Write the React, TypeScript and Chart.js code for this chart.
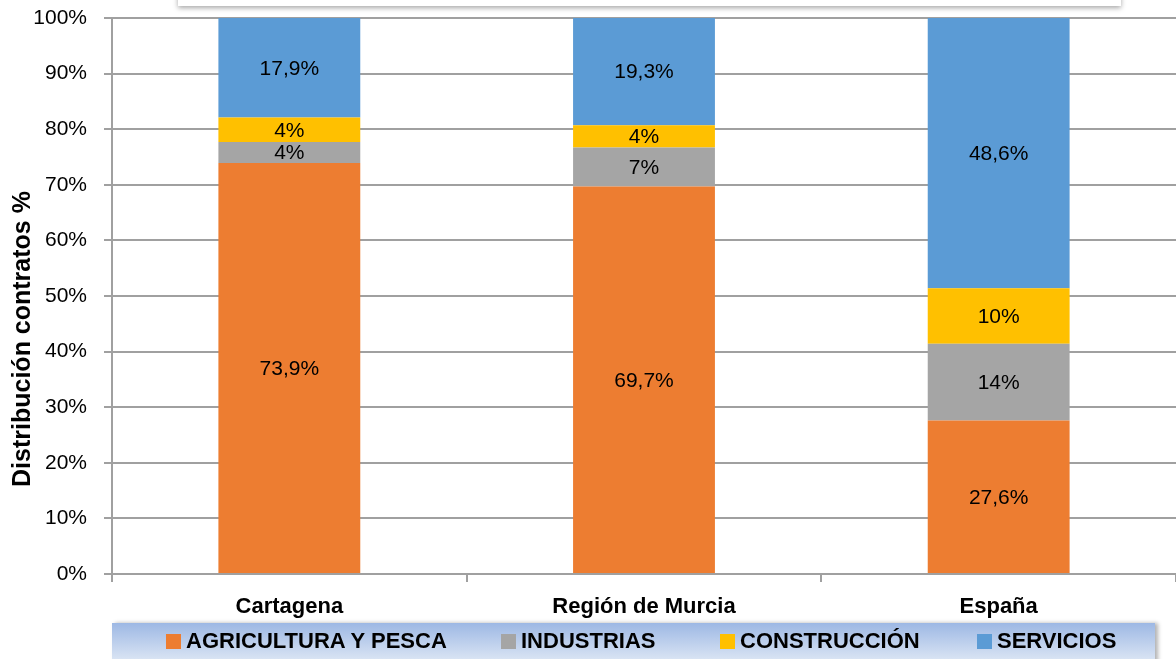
import React, { useEffect, useRef } from "react";
import { Chart, registerables } from "chart.js";

Chart.register(...registerables);

const categories = ["Cartagena", "Región de Murcia", "España"];
const seriesNames = ["AGRICULTURA Y PESCA", "INDUSTRIAS", "CONSTRUCCIÓN", "SERVICIOS"];
const agricultura = [73.9, 69.7, 27.6];
const industrias = [3.8, 7.0, 13.8];
const construccion = [4.4, 4.0, 10.0];
const servicios = [17.9, 19.3, 48.6];
const labelDecimals = [1, 0, 0, 1];
const colors = ["#ED7D31", "#A5A5A5", "#FFC000", "#5B9BD5"];
const yTicks = [0, 10, 20, 30, 40, 50, 60, 70, 80, 90, 100];
const yTitle = "Distribución contratos %";

const FONT = "'Liberation Sans', Arial, sans-serif";

const dataLabelPlugin = {
  id: "dataLabels",
  afterDatasetsDraw(chart: any) {
    const ctx = chart.ctx;
    ctx.save();
    ctx.font = `21px ${FONT}`;
    ctx.fillStyle = "#000";
    ctx.textAlign = "center";
    ctx.textBaseline = "middle";
    chart.data.datasets.forEach((ds: any, di: number) => {
      const meta = chart.getDatasetMeta(di);
      meta.data.forEach((bar: any, i: number) => {
        const v = ds.data[i];
        const dec = labelDecimals[di];
        const txt = (dec ? v.toFixed(dec).replace(".", ",") : Math.round(v).toString()) + "%";
        const y = (bar.y + bar.base) / 2;
        ctx.fillText(txt, bar.x, y + 1);
      });
    });
    ctx.restore();
  },
};

const yTitlePlugin = {
  id: "yTitle",
  afterDraw(chart: any) {
    const ctx = chart.ctx;
    ctx.save();
    ctx.translate(23, 339);
    ctx.rotate(-Math.PI / 2);
    ctx.font = `bold 25px ${FONT}`;
    ctx.fillStyle = "#000";
    ctx.textAlign = "center";
    ctx.textBaseline = "middle";
    ctx.fillText(yTitle, 0, 0);
    ctx.restore();
  },
};

export default function App() {
  const ref = useRef<HTMLCanvasElement | null>(null);

  useEffect(() => {
    if (!ref.current) return;
    const seriesData = [agricultura, industrias, construccion, servicios];
    const chart = new Chart(ref.current, {
      type: "bar",
      data: {
        labels: categories,
        datasets: seriesNames.map((name, i) => ({
          label: name,
          data: seriesData[i],
          backgroundColor: colors[i],
          borderWidth: 0,
          categoryPercentage: 1,
          barPercentage: 0.4,
        })),
      },
      options: {
        animation: false,
        responsive: false,
        maintainAspectRatio: false,
        layout: { padding: { top: 18, right: 0, bottom: 36, left: 0 } },
        plugins: {
          legend: { display: false },
          tooltip: { enabled: false },
        },
        scales: {
          x: {
            stacked: true,
            afterFit: (s: any) => {
              s.height = 49;
              s.paddingLeft = 0;
              s.paddingRight = 0;
            },
            grid: {
              offset: true,
              drawOnChartArea: false,
              drawTicks: true,
              tickLength: 8,
              color: "#a0a0a0",
              lineWidth: 2,
            },
            border: { color: "#a0a0a0", width: 2 },
            ticks: {
              color: "#000",
              padding: 12,
              font: { family: FONT, size: 22, weight: "bold" },
            },
          },
          y: {
            stacked: true,
            min: 0,
            max: 100,
            afterFit: (s: any) => {
              s.width = 112;
              s.paddingTop = 0;
              s.paddingBottom = 0;
            },
            afterBuildTicks: (s: any) => {
              s.ticks = yTicks.map((v) => ({ value: v }));
            },
            grid: {
              color: "#a0a0a0",
              lineWidth: 2,
              tickLength: 8,
            },
            border: { color: "#a0a0a0", width: 2 },
            ticks: {
              color: "#000",
              padding: 17,
              font: { family: FONT, size: 21 },
              callback: (v: any) => `${v}%`,
            },
          },
        },
      },
      plugins: [dataLabelPlugin, yTitlePlugin],
    } as any);
    return () => chart.destroy();
  }, []);

  return (
    <div
      style={{
        position: "fixed",
        left: 0,
        top: 0,
        width: 1176,
        height: 659,
        background: "#fff",
        overflow: "hidden",
      }}
    >
      <canvas ref={ref} width={1176} height={659} style={{ position: "absolute", left: 0, top: 0 }} />
      <div
        style={{
          position: "absolute",
          left: 178,
          top: -40,
          width: 943,
          height: 46,
          background: "#fff",
          boxShadow: "0 2px 5px rgba(0,0,0,0.35)",
        }}
      />
      <div
        style={{
          position: "absolute",
          left: 112,
          top: 623,
          width: 1043,
          height: 40,
          background: "linear-gradient(to bottom, #9db8e4, #dfe8f5)",
          boxShadow: "3px 0 4px rgba(0,0,0,0.3)",
        }}
      >
        {seriesNames.map((name, i) => (
          <div
            key={name}
            style={{
              position: "absolute",
              left: [54, 389, 608, 865][i],
              top: 5,
              display: "flex",
              alignItems: "center",
              fontFamily: FONT,
              fontWeight: "bold",
              fontSize: 22,
              color: "#000",
              whiteSpace: "nowrap",
            }}
          >
            <span
              style={{
                display: "inline-block",
                width: 15,
                height: 15,
                background: colors[i],
                marginRight: 5,
              }}
            />
            {name}
          </div>
        ))}
      </div>
    </div>
  );
}
